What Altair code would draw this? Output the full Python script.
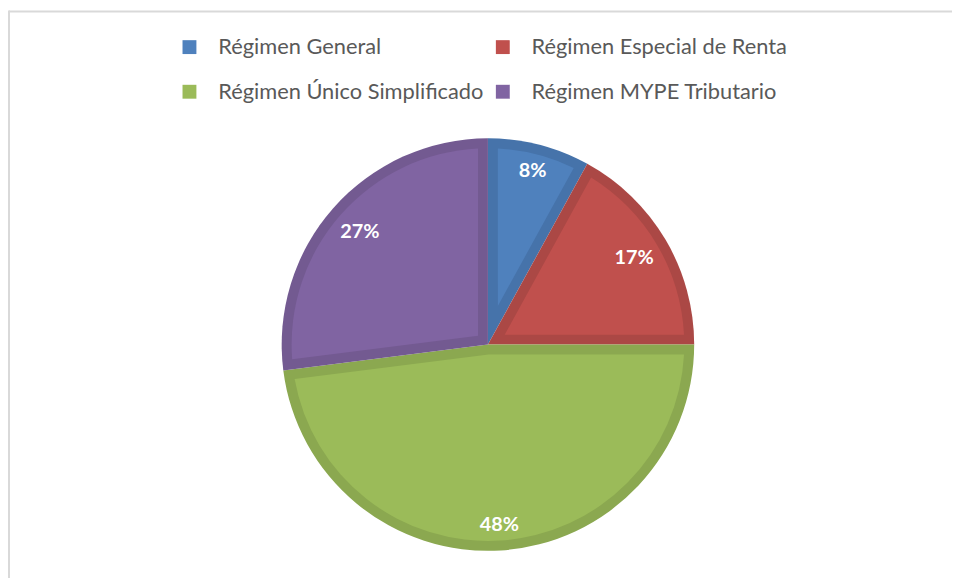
import altair as alt
import pandas as pd

categories = ["Régimen General", "Régimen Especial de Renta",
              "Régimen Único Simplificado", "Régimen MYPE Tributario"]
values = [8, 17, 48, 27]
order_idx = [1, 2, 3, 4]
fill_colors = ["#4F81BD", "#C0504D", "#9BBB59", "#8064A2"]
edge_colors = ["#4673AA", "#AB4845", "#8BA850", "#735A91"]

R_OUT = 208
BORDER = 10
R_IN = R_OUT - BORDER

df = pd.DataFrame({"cat": categories, "value": values, "idx": order_idx})

base = alt.Chart(df).transform_joinaggregate(
    total="sum(value)"
).transform_window(
    cum="sum(value)", sort=[alt.SortField("idx")], frame=[None, 0]
).transform_calculate(
    span="2*PI*datum.value/datum.total",
    mid="2*PI*(datum.cum - datum.value/2)/datum.total",
    label="format(datum.value, 'd') + '%'",
).transform_calculate(
    r0=f"{BORDER}/sin(datum.span/2)",
    lw="13*length(datum.label) + 2",
).transform_calculate(
    lr=f"{R_OUT} - 14 - (datum.lw/2*abs(sin(datum.mid)) + 10*abs(cos(datum.mid)))"
)

theta = alt.Theta("value:Q", stack=True)
order = alt.Order("idx:Q")

dark = base.mark_arc(outerRadius=R_OUT).encode(
    theta=theta, order=order,
    color=alt.Color("cat:N", scale=alt.Scale(domain=categories, range=edge_colors), legend=None),
)

light = base.mark_arc(
    outerRadius=R_IN,
    innerRadius=alt.expr("datum.r0"),
    padAngle=alt.expr(f"2*asin({BORDER}/sqrt({R_IN}*{R_IN} + datum.r0*datum.r0))"),
).encode(
    theta=theta, order=order,
    color=alt.Color(
        "cat:N",
        scale=alt.Scale(domain=categories, range=fill_colors),
        legend=alt.Legend(
            orient="none", legendX=156, legendY=-78, columns=2, title=None,
            direction="horizontal",
            symbolType="square", symbolSize=196, symbolStrokeWidth=0,
            labelFont="Lato", labelFontSize=22, labelColor="#595959",
            labelOffset=18, labelLimit=500, rowPadding=23, columnPadding=8,
            padding=0,
        ),
    ),
)

labels = base.mark_text(
    font="Lato", fontWeight="bold", fontSize=20, color="white",
    align="center", baseline="middle",
).encode(
    theta=alt.Theta("mid:Q", scale=None),
    radius=alt.Radius("lr:Q", scale=None),
    text="label:N",
)

frame_data = alt.Data(values=[{"a": 1}])
top_line = alt.Chart(frame_data).mark_rule(color="#D9D9D9", strokeWidth=2).encode(
    x=alt.value(-15), x2=alt.value(960), y=alt.value(-103)
)
left_line = alt.Chart(frame_data).mark_rule(color="#D9D9D9", strokeWidth=2).encode(
    x=alt.value(-15), y=alt.value(-104), y2=alt.value(480)
)

chart = alt.layer(dark, light, labels, top_line, left_line).resolve_scale(
    color="independent", theta="independent", radius="independent"
).properties(
    width=936, height=466,
    padding={"left": 16, "top": 104, "right": 0, "bottom": 8},
    autosize=alt.AutoSizeParams(type="none"),
).configure_view(stroke=None)

chart.save("out.html", embed_options={"renderer": "svg", "actions": False})
